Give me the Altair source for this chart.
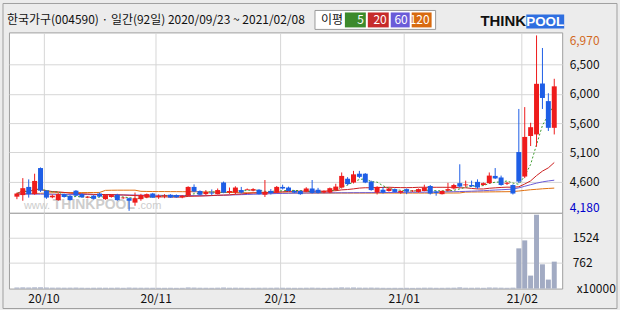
import altair as alt
import pandas as pd

# ---------------- data ----------------
title_text = "한국가구(004590) · 일간(92일) 2020/09/23 ~ 2021/02/08"
ma_names = ["5", "20", "60", "120"]
legend_colors = ["#3c8a2c", "#c62a2a", "#6a5cd8", "#d86a10"]
line_colors = ["#3c9a2c", "#cc2020", "#6a5cd8", "#e07010"]

opens = [4405, 4430, 4560, 4445, 4860, 4500, 4395, 4350, 4445, 4420,
         4500, 4445, 4390, 4420, 4455, 4365, 4400, 4435, 4380, 4380,
         4310, 4365, 4390, 4455, 4400, 4410, 4435, 4430, 4395, 4420,
         4560, 4495, 4445, 4470, 4445, 4630, 4470, 4470, 4510, 4515,
         4500, 4515, 4435, 4495, 4470, 4560, 4550, 4495, 4495, 4485,
         4535, 4515, 4470, 4470, 4510, 4550, 4690, 4630, 4770, 4770,
         4645, 4470, 4515, 4495, 4525, 4470, 4525, 4490, 4480, 4495,
         4575, 4485, 4445, 4500, 4535, 4620, 4585, 4590, 4640, 4590,
         4620, 4735, 4710, 4610, 4590, 5115, 4725, 5370, 5395, 6205,
         5925, 5500]
highs = [4470, 4700, 4680, 4770, 4870, 4510, 4440, 4460, 4455, 4430,
         4510, 4460, 4415, 4430, 4470, 4440, 4445, 4450, 4400, 4390,
         4470, 4450, 4455, 4465, 4440, 4445, 4445, 4440, 4430, 4570,
         4600, 4505, 4510, 4520, 4535, 4645, 4550, 4570, 4560, 4535,
         4540, 4525, 4670, 4525, 4575, 4595, 4565, 4510, 4505, 4555,
         4670, 4545, 4505, 4550, 4610, 4790, 4715, 4815, 4815, 4780,
         4660, 4570, 4560, 4545, 4535, 4505, 4535, 4510, 4535, 4595,
         4590, 4500, 4505, 4625, 4610, 4920, 4660, 4660, 4680, 4630,
         4790, 4860, 4740, 4640, 4600, 5800, 5830, 5580, 6970, 6770,
         6050, 6280]
lows = [4365, 4340, 4390, 4435, 4480, 4370, 4380, 4340, 4390, 4345,
        4410, 4385, 4380, 4360, 4395, 4355, 4390, 4340, 4370, 4180,
        4260, 4340, 4380, 4385, 4370, 4380, 4385, 4385, 4380, 4410,
        4475, 4425, 4430, 4430, 4440, 4460, 4450, 4440, 4455, 4505,
        4490, 4440, 4400, 4440, 4460, 4520, 4490, 4460, 4435, 4475,
        4455, 4455, 4460, 4460, 4500, 4535, 4590, 4615, 4700, 4620,
        4500, 4440, 4455, 4485, 4470, 4450, 4445, 4480, 4470, 4490,
        4440, 4420, 4440, 4490, 4520, 4550, 4560, 4560, 4530, 4580,
        4610, 4685, 4580, 4590, 4440, 4620, 4700, 5210, 5200, 5800,
        5450, 5395]
closes = [4455, 4540, 4445, 4655, 4500, 4390, 4420, 4445, 4400, 4350,
          4420, 4395, 4405, 4370, 4405, 4430, 4430, 4350, 4390, 4340,
          4380, 4430, 4445, 4390, 4420, 4425, 4390, 4395, 4420, 4560,
          4485, 4435, 4480, 4455, 4510, 4470, 4495, 4550, 4470, 4525,
          4525, 4445, 4485, 4460, 4560, 4535, 4495, 4470, 4445, 4535,
          4465, 4465, 4495, 4540, 4565, 4735, 4605, 4760, 4720, 4630,
          4510, 4560, 4470, 4535, 4480, 4495, 4485, 4500, 4525, 4550,
          4455, 4465, 4495, 4525, 4590, 4565, 4600, 4570, 4550, 4620,
          4740, 4695, 4590, 4625, 4455, 4645, 5355, 5510, 6200, 5975,
          5500, 6160]
volumes = [30, 34, 30, 35, 36, 30, 26, 27, 25, 26,
           28, 24, 22, 24, 25, 24, 23, 26, 22, 28,
           25, 24, 24, 23, 22, 22, 23, 21, 22, 32,
           28, 24, 23, 22, 25, 30, 24, 25, 23, 22,
           22, 24, 26, 23, 26, 24, 23, 22, 22, 24,
           26, 23, 21, 22, 25, 33, 28, 31, 26, 25,
           27, 25, 22, 21, 22, 21, 22, 20, 22, 25,
           25, 22, 22, 24, 25, 34, 24, 23, 25, 22,
           30, 28, 25, 22, 26, 1196, 1433, 386, 2196, 721,
           267, 801]
ma60 = [4448, 4447, 4446, 4446, 4445, 4444, 4443, 4442, 4441, 4440,
        4440, 4439, 4438, 4437, 4436, 4435, 4434, 4433, 4432, 4431,
        4430, 4429, 4428, 4427, 4426, 4425, 4424, 4423, 4422, 4422,
        4421, 4420, 4420, 4422, 4425, 4428, 4431, 4434, 4437, 4440,
        4443, 4446, 4449, 4452, 4455, 4457, 4459, 4461, 4462, 4463,
        4464, 4465, 4465, 4466, 4466, 4467, 4467, 4468, 4468, 4469,
        4469, 4470, 4470, 4471, 4472, 4473, 4474, 4475, 4476, 4477,
        4478, 4479, 4480, 4482, 4484, 4486, 4489, 4492, 4496, 4500,
        4505, 4510, 4515, 4520, 4525, 4545, 4570, 4595, 4620, 4640,
        4655, 4667]
ma120 = [4448, 4450, 4452, 4455, 4458, 4462, 4466, 4468, 4470, 4470,
         4470, 4470, 4471, 4471, 4472, 4505, 4507, 4508, 4508, 4508,
         4508, 4490, 4488, 4487, 4486, 4486, 4485, 4485, 4484, 4484,
         4483, 4482, 4480, 4478, 4476, 4474, 4472, 4470, 4468, 4467,
         4466, 4466, 4465, 4465, 4464, 4464, 4464, 4463, 4463, 4463,
         4462, 4462, 4462, 4462, 4462, 4462, 4462, 4462, 4462, 4462,
         4462, 4462, 4462, 4462, 4462, 4462, 4462, 4462, 4462, 4462,
         4462, 4462, 4462, 4463, 4463, 4464, 4478, 4479, 4480, 4480,
         4481, 4482, 4483, 4484, 4486, 4495, 4505, 4515, 4522, 4530,
         4536, 4541]

price_ticks = [4180, 4645, 5110, 5575, 6040, 6505, 6970]
price_domain = [4148, 7018]
vol_ticks = [0, 762, 1524]
vol_domain = [0, 2253]
month_pos = [4.5, 23.5, 44.5, 65.5, 85.5]
month_labels = ["20/10", "20/11", "20/12", "21/01", "21/02"]
watermark_parts = ["www.", "THINKPOOL", ".com"]

# ---------------- tables ----------------
n = len(closes)
df = pd.DataFrame({
    "i": list(range(n)), "open": opens, "high": highs, "low": lows,
    "close": closes, "volume": volumes, "ma60": ma60, "ma120": ma120,
})
df["dir"] = ["up" if c >= o else "down" for o, c in zip(opens, closes)]
one = pd.DataFrame({"k": [0]})

KR = "Noto Sans CJK KR"
GRID = "#d6d6d6"
UP, DOWN = "#ee1c1c", "#1e5ee6"
BG = "#ececec"
FRAME = "#a0a0a0"
lo, hi = price_ticks[0], price_ticks[-1]

xscale = alt.Scale(domain=[-0.5, n - 0.5], nice=False, zero=False)
month_expr = "".join(f"datum.value == {p} ? '{l}' : " for p, l in zip(month_pos, month_labels)) + "''"

xaxis_p = alt.Axis(values=month_pos, labels=False, ticks=False, domain=False,
                   grid=True, gridColor=GRID, minExtent=0, maxExtent=0)
xaxis_v = alt.Axis(values=month_pos, labelExpr=month_expr, ticks=False, domain=False,
                   grid=True, gridColor=GRID, labelFont=KR, labelFontSize=12,
                   labelColor="#111111", labelPadding=5, labelFlush=False)

price_y = alt.Scale(domain=price_domain, nice=False, zero=False)
yaxis_p = alt.Axis(
    orient="right", values=price_ticks, ticks=False, domain=False, grid=True,
    gridColor={"condition": {"test": f"datum.value == {lo} || datum.value == {hi}", "value": "transparent"}, "value": GRID},
    labelExpr=f"(datum.value == {lo} || datum.value == {hi}) ? format(datum.value, ',') : format(round(datum.value / 100) * 100, ',')",
    labelColor={"condition": [{"test": f"datum.value == {hi}", "value": "#d2691e"},
                              {"test": f"datum.value == {lo}", "value": "#0000cc"}],
                "value": "#111111"},
    labelOffset={"condition": [{"test": f"datum.value == {hi}", "value": 5},
                               {"test": f"datum.value == {lo}", "value": -3}],
                 "value": 0},
    labelFont=KR, labelFontSize=12, labelPadding=7,
)
yaxis_v = alt.Axis(
    orient="right", values=vol_ticks, ticks=False, domain=False, grid=True, format="d",
    gridColor={"condition": {"test": "datum.value == 0", "value": "transparent"}, "value": GRID},
    labelExpr="datum.value == 0 ? 'x10000' : datum.label",
    labelPadding={"condition": {"test": "datum.value == 0", "value": 14}, "value": 10},
    labelFont=KR, labelFontSize=12, labelColor="#111111",
)

X_p = alt.X("i:Q", scale=xscale, axis=xaxis_p, title=None)
col = alt.Color("dir:N", scale=alt.Scale(domain=["up", "down"], range=[UP, DOWN]), legend=None)

def Yp(field):
    return alt.Y(field, scale=price_y, axis=yaxis_p, title=None)

# ---------------- header ----------------
h = alt.Chart(one)
hdr_layers = [
    h.mark_rect(color=BG).encode(x=alt.value(-8), x2=alt.value(612), y=alt.value(0), y2=alt.value(310)),
    h.mark_rect(fill="transparent", stroke=FRAME, strokeWidth=1).encode(
        x=alt.value(-6), x2=alt.value(610), y=alt.value(2), y2=alt.value(308)),
    h.mark_text(align="left", baseline="middle", font=KR, fontSize=12, color="#111111").encode(
        x=alt.value(-2), y=alt.value(19), text=alt.value(title_text)),
    h.mark_rect(fill="white", stroke="#9a9a9a", strokeWidth=1).encode(
        x=alt.value(307), x2=alt.value(428), y=alt.value(9), y2=alt.value(28)),
    h.mark_text(align="left", baseline="middle", font=KR, fontSize=12, color="#111111").encode(
        x=alt.value(313), y=alt.value(18.5), text=alt.value("이평")),
]
box_x = [(337, 358), (360, 381), (383, 402), (404, 424)]
for (bx0, bx1), name, c in zip(box_x, ma_names, legend_colors):
    hdr_layers.append(h.mark_rect(color=c).encode(
        x=alt.value(bx0), x2=alt.value(bx1), y=alt.value(11), y2=alt.value(26)))
    hdr_layers.append(h.mark_text(align="right", baseline="middle", font=KR, fontSize=12, color="white").encode(
        x=alt.value(bx1 - 2), y=alt.value(18.5), text=alt.value(name)))
hdr_layers += [
    h.mark_text(align="left", baseline="middle", font="Liberation Sans", fontSize=15,
                fontWeight="bold", color="#111111").encode(
        x=alt.value(473), y=alt.value(20), text=alt.value("THINK")),
    h.mark_rect(color="#2f6fe0").encode(x=alt.value(519), x2=alt.value(557), y=alt.value(13), y2=alt.value(27)),
    h.mark_text(align="center", baseline="middle", font="Liberation Sans", fontSize=13.5,
                fontWeight="bold", color="white").encode(
        x=alt.value(538), y=alt.value(20.5), text=alt.value("POOL")),
]
header = alt.layer(*hdr_layers).properties(
    width=555, height=31, view=alt.ViewBackground(fill="transparent", stroke="transparent"))

# ---------------- price panel ----------------
base = alt.Chart(one)
wm_specs = [(watermark_parts[0], 15, 11, "normal"), (watermark_parts[1], 44, 14, "bold"),
            (watermark_parts[2], 129, 11, "normal")]
wm_layers = [
    base.mark_text(align="left", baseline="alphabetic", font="Liberation Sans", fontSize=fs,
                   fontWeight=fw, color="#cdcdcd").encode(x=alt.value(xx), y=alt.value(177), text=alt.value(t))
    for t, xx, fs, fw in wm_specs
]
cb = alt.Chart(df)
l120 = cb.mark_line(color=line_colors[3], strokeWidth=1).encode(x=X_p, y=Yp("ma120:Q"))
l60 = cb.mark_line(color=line_colors[2], strokeWidth=1).encode(x=X_p, y=Yp("ma60:Q"))
l20 = cb.transform_window(ma20="mean(close)", frame=[-19, 0], sort=[alt.SortField("i")]).mark_line(
    color=line_colors[1], strokeWidth=1).encode(x=X_p, y=Yp("ma20:Q"))
l5 = cb.transform_window(ma5="mean(close)", frame=[-4, 0], sort=[alt.SortField("i")]).mark_line(
    color=line_colors[0], strokeWidth=1, strokeDash=[2, 2]).encode(x=X_p, y=Yp("ma5:Q"))
wick = cb.mark_rule(strokeWidth=1).encode(x=X_p, y=Yp("low:Q"), y2="high:Q", color=col)
body = cb.mark_bar(size=5).encode(x=X_p, y=Yp("open:Q"), y2="close:Q", color=col)

price = alt.layer(*wm_layers, l120, l60, l20, l5, wick, body).properties(
    width=555, height=181, view=alt.ViewBackground(fill="white", stroke=FRAME))

# ---------------- volume panel ----------------
volume = alt.Chart(df).mark_bar(size=5, color="#a2abc3").encode(
    x=alt.X("i:Q", scale=xscale, axis=xaxis_v, title=None),
    y=alt.Y("volume:Q", scale=alt.Scale(domain=vol_domain, nice=False, zero=True), axis=yaxis_v, title=None),
).properties(width=555, height=76, view=alt.ViewBackground(fill="white", stroke=FRAME))

chart = alt.vconcat(header, price, volume, spacing=0, bounds="flush").resolve_scale(
    x="independent", y="independent").properties(background=BG, padding=0)

chart.save("out.html", embed_options={"renderer": "svg", "actions": False})
